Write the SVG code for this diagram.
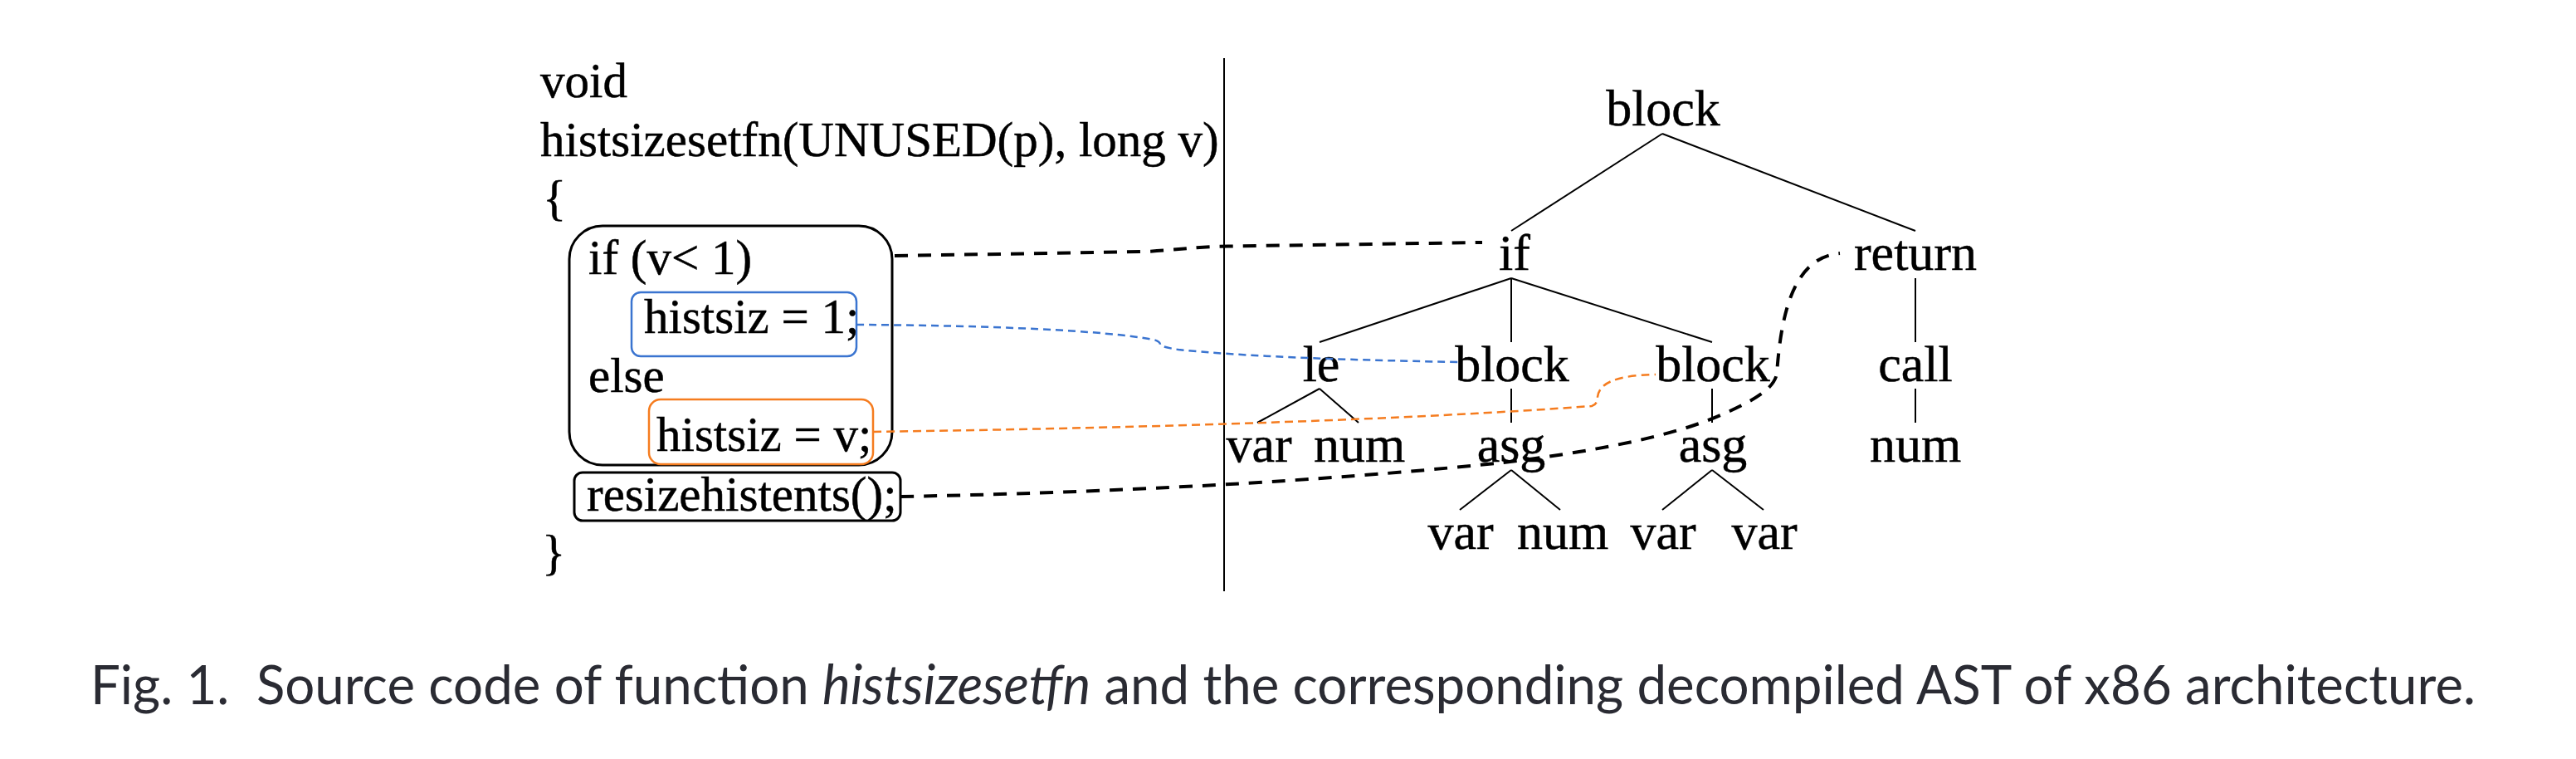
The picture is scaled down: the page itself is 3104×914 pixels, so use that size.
<svg xmlns="http://www.w3.org/2000/svg" width="3104" height="914" viewBox="0 0 3104 914">
<style>
.code{font-family:"Liberation Serif","Times New Roman",serif;font-size:59px;fill:#000;stroke:#000;stroke-width:0.5}
.tn{font-family:"Liberation Serif","Times New Roman",serif;font-size:62px;fill:#000;stroke:#000;stroke-width:0.5;text-anchor:middle}
.edge{stroke:#000;stroke-width:2;fill:none}
.cap{font-family:Lato,"Open Sans",sans-serif;font-size:66px;fill:#2a2b33}
</style>
<rect width="3104" height="914" fill="#fff"/>
<g id="code">
<text class="code" x="651" y="117">void</text>
<text class="code" x="651" y="188">histsizesetfn(UNUSED(p), long v)</text>
<text class="code" x="654" y="258">{</text>
<text class="code" x="709" y="330">if (v&lt; 1)</text>
<text class="code" x="709" y="472">else</text>
<text class="code" x="653" y="685">}</text>
</g>
<g id="ifbox"><rect x="686" y="272" width="389" height="288" rx="40" fill="none" stroke="#000" stroke-width="3"/></g>
<g id="stmt1"><rect x="761" y="352" width="271" height="77" rx="11" fill="none" stroke="#3a74d0" stroke-width="2.5"/><text class="code" x="776" y="401">histsiz = 1;</text></g>
<g id="stmt2"><rect x="782" y="481" width="270" height="78" rx="14" fill="none" stroke="#f57c1f" stroke-width="2.5"/><text class="code" x="791" y="543">histsiz = v;</text></g>
<g id="stmt3"><rect x="692" y="569" width="393" height="58" rx="10" fill="none" stroke="#000" stroke-width="3"/><text class="code" x="707" y="615">resizehistents();</text></g>
<line id="divider" x1="1475" y1="70" x2="1475" y2="712" stroke="#000" stroke-width="2"/>
<g id="tree-edges">
<path class="edge" d="M2003 161 L1821 278 M2003 161 L2308 278 M1821 335 L1590 412 M1821 335 L1821 412 M1821 335 L2063 412 M2308 335 L2308 412 M1590 468 L1515 509 M1590 468 L1637 509 M1821 468 L1821 509 M2063 468 L2063 509 M2308 468 L2308 509 M1821 566 L1759 614 M1821 566 L1880 614 M2063 566 L2003 614 M2063 566 L2125 614"/>
</g>
<g id="n-block"><text class="tn" x="2004" y="151">block</text></g>
<g id="n-if"><text class="tn" x="1825" y="325">if</text></g>
<g id="n-return"><text class="tn" x="2308" y="325">return</text></g>
<g id="n-le"><text class="tn" x="1592" y="459">le</text></g>
<g id="n-block1"><text class="tn" x="1822" y="459">block</text></g>
<g id="n-block2"><text class="tn" x="2064" y="459">block</text></g>
<g id="n-call"><text class="tn" x="2308" y="459">call</text></g>
<g id="n-var1"><text class="tn" x="1517" y="556">var</text></g>
<g id="n-num1"><text class="tn" x="1638" y="556">num</text></g>
<g id="n-asg1"><text class="tn" x="1821" y="556">asg</text></g>
<g id="n-asg2"><text class="tn" x="2064" y="556">asg</text></g>
<g id="n-num2"><text class="tn" x="2308" y="556">num</text></g>
<g id="n-var2"><text class="tn" x="1760" y="661">var</text></g>
<g id="n-num3"><text class="tn" x="1883" y="661">num</text></g>
<g id="n-var3"><text class="tn" x="2004" y="661">var</text></g>
<g id="n-var4"><text class="tn" x="2126" y="661">var</text></g>
<g id="connectors" fill="none">
<path d="M1078 308 L1380 303 C1420 301 1440 297 1480 296.5 L1786 292" stroke="#000" stroke-width="4" stroke-dasharray="16 12"/>
<path d="M1032 391 C1200 392 1330 398 1390 409 Q1398 411 1398 415 Q1400 418 1420 421 C1500 429 1600 433 1757 436" stroke="#3a74d0" stroke-width="2.5" stroke-dasharray="9 6"/>
<path d="M1052 520 C1400 515 1700 505 1918 489 Q1925 487 1925 478 C1927 462 1945 452 1995 451" stroke="#f57c1f" stroke-width="2.5" stroke-dasharray="10 6"/>
<path d="M1085 598 C1400 592 1650 574 1811 557 C1950 540 2030 520 2080 497 C2120 479 2138 466 2141 450 C2146 380 2160 310 2217 305" stroke="#000" stroke-width="4" stroke-dasharray="16 12"/>
</g>
<text class="cap" x="109" y="848" textLength="2874" lengthAdjust="spacingAndGlyphs" xml:space="preserve">Fig. 1.  Source code of function <tspan font-style="italic">histsizesetfn</tspan> and the corresponding decompiled AST of x86 architecture.</text>
</svg>
